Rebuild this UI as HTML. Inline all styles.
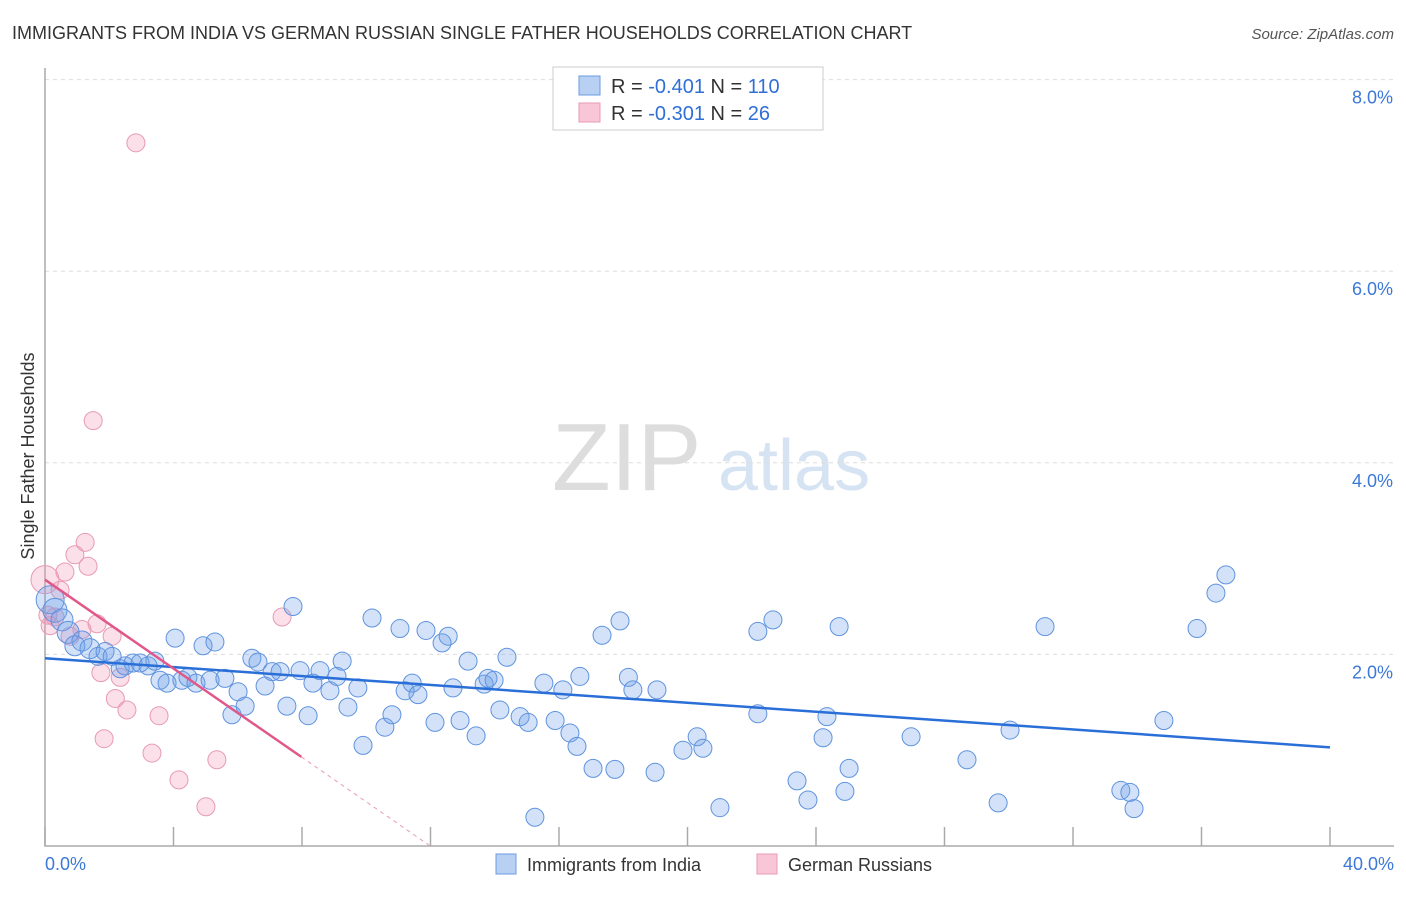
<!DOCTYPE html>
<html><head><meta charset="utf-8"><style>
body{margin:0;background:#fff;font-family:"Liberation Sans",sans-serif}
svg text{font-family:"Liberation Sans",sans-serif}
</style></head><body>
<svg id="c" width="1406" height="892" xmlns="http://www.w3.org/2000/svg">
<text x="12" y="39" font-size="18" fill="#333">IMMIGRANTS FROM INDIA VS GERMAN RUSSIAN SINGLE FATHER HOUSEHOLDS CORRELATION CHART</text>
<text x="1394" y="39" font-size="15" fill="#555" font-style="italic" text-anchor="end">Source: ZipAtlas.com</text>
<text x="34" y="456" font-size="18" fill="#333" text-anchor="middle" transform="rotate(-90 34 456)">Single Father Households</text>
<g><text x="552" y="490" font-size="96" fill="#ddd" font-family="Liberation Serif">ZIP</text><text x="718" y="490" font-size="72" fill="#d6e3f3">atlas</text></g>
<g id="grid"></g><g id="pts"></g><g id="trend"></g>
<g>
<rect x="553" y="67" width="270" height="63" fill="#fff" stroke="#ccc"/>
<rect x="579" y="76" width="21" height="19" fill="#b8d0f2" stroke="#6a9be0"/>
<rect x="579" y="103" width="21" height="19" fill="#f8c6d6" stroke="#e89ab4"/>
<text x="611" y="93" font-size="20" fill="#333">R = <tspan fill="#2f6fd6">-0.401</tspan>   N = <tspan fill="#2f6fd6">110</tspan></text>
<text x="611" y="120" font-size="20" fill="#333">R = <tspan fill="#2f6fd6">-0.301</tspan>   N =  <tspan fill="#2f6fd6"> 26</tspan></text>
</g>
<g>
<rect x="496" y="854" width="20" height="20" fill="#b8d0f2" stroke="#6a9be0"/>
<text x="527" y="871" font-size="18" fill="#333">Immigrants from India</text>
<rect x="757" y="854" width="20" height="20" fill="#f8c6d6" stroke="#e89ab4"/>
<text x="788" y="871" font-size="18" fill="#333">German Russians</text>
</g>
</svg>
<script>
const yTicks=[2,4,6,8];
const xTickLabels=["0.0%","40.0%"];
const blueX=[0.16,0.31,0.53,0.72,0.93,1.15,1.40,1.65,1.87,2.09,2.34,2.49,2.74,2.96,3.21,3.42,3.58,3.80,4.05,4.26,4.45,4.70,4.92,5.14,5.29,5.60,5.82,6.01,6.23,6.44,6.63,6.85,7.07,7.32,7.53,7.72,7.94,8.19,8.34,8.56,8.87,9.09,9.25,9.43,9.74,9.90,10.18,10.58,10.80,11.05,11.21,11.43,11.61,11.86,12.14,12.36,12.55,12.70,12.92,13.17,13.42,13.67,13.79,13.98,14.16,14.38,14.79,15.04,15.25,15.53,15.88,16.12,16.34,16.56,16.65,17.06,17.34,17.74,17.90,18.16,18.30,18.99,19.05,19.86,20.30,20.48,21.01,22.19,22.19,22.66,23.41,23.75,24.22,24.34,24.72,24.90,25.03,26.96,28.70,29.67,30.04,31.13,33.49,33.77,33.90,34.83,35.86,36.45,36.76];
const blueY=[2.57,2.46,2.36,2.23,2.09,2.14,2.06,1.98,2.03,1.98,1.85,1.88,1.91,1.91,1.88,1.93,1.73,1.70,2.17,1.73,1.76,1.70,2.09,1.73,2.13,1.75,1.37,1.61,1.46,1.96,1.92,1.67,1.82,1.82,1.46,2.50,1.83,1.36,1.70,1.83,1.62,1.77,1.93,1.45,1.65,1.05,2.38,1.24,1.37,2.27,1.62,1.70,1.58,2.25,1.29,2.12,2.19,1.65,1.31,1.93,1.15,1.69,1.75,1.73,1.42,1.97,1.35,1.29,0.30,1.70,1.31,1.63,1.18,1.04,1.77,0.81,2.20,0.80,2.35,1.76,1.63,0.77,1.63,1.00,1.14,1.02,0.40,2.24,1.38,2.36,0.68,0.48,1.13,1.35,2.29,0.57,0.81,1.14,0.90,0.45,1.21,2.29,0.58,0.56,0.39,1.31,2.27,2.64,2.83];
const blueR=[14,12,11,11,10,10,10,9,9,9,9,9,9,9,9,9,9,9,9,9,9,9,9,9,9,9,9,9,9,9,9,9,9,9,9,9,9,9,9,9,9,9,9,9,9,9,9,9,9,9,9,9,9,9,9,9,9,9,9,9,9,9,9,9,9,9,9,9,9,9,9,9,9,9,9,9,9,9,9,9,9,9,9,9,9,9,9,9,9,9,9,9,9,9,9,9,9,9,9,9,9,9,9,9,9,9,9,9,9,9];
const pinkX=[0.09,0.31,0.47,0.62,0.93,1.15,1.25,1.34,1.50,1.62,1.74,1.84,2.09,2.19,2.34,2.55,2.83,3.33,3.55,4.17,5.01,5.35,7.38,0.16,0.78,0.00];
const pinkY=[2.41,2.39,2.67,2.86,3.04,2.26,3.17,2.92,4.44,2.32,1.81,1.12,2.19,1.54,1.76,1.42,7.34,0.97,1.36,0.69,0.41,0.90,2.39,2.30,2.19,2.78];
const blueTrend=[1.96,1.03];
const pinkTrend=[2.78,0.93,7.98];
const X0=45,X1=1330,Y0=846,YPER=95.8;
const xs=v=>X0+(X1-X0)*v/40, ys=v=>Y0-YPER*v;
const NS="http://www.w3.org/2000/svg";
function mk(t,a,p){const e=document.createElementNS(NS,t);for(const k in a)e.setAttribute(k,a[k]);p.appendChild(e);return e;}
const g=document.getElementById('grid');
yTicks.forEach(t=>{
 const l=mk('line',{x1:X0,x2:1394,y1:ys(t),y2:ys(t),stroke:'#ddd','stroke-dasharray':'4,4'},g);
 
 
 const tx=mk('text',{x:1393,y:ys(t)+24,'font-size':18,fill:'#3b78d8','text-anchor':'end'},g);tx.textContent=t.toFixed(1)+'%';
 
 
});
const ax=mk('path',{d:`M${X0} 68V${Y0}H1394`,stroke:'#aaa',fill:'none','stroke-width':1.5},g);


for(let i=0;i<=10;i++){const x=xs(i*4);const t=mk('line',{x1:x,x2:x,y1:Y0-19,y2:Y0,stroke:'#aaa','stroke-width':1.5},g);
 
 }
const l0=mk('text',{x:45,y:870,'font-size':18,fill:'#3b78d8'},g);l0.textContent=xTickLabels[0];


const l1=mk('text',{x:1394,y:870,'font-size':18,fill:'#3b78d8','text-anchor':'end'},g);l1.textContent=xTickLabels[1];


const P=document.getElementById('pts');
pinkX.forEach((v,i)=>{const c=mk('circle',{cx:xs(v),cy:ys(pinkY[i]),r:i==25?14:9,fill:'rgba(242,150,182,0.3)',stroke:'#e89ab4','stroke-width':1},P);
 
 });
blueX.forEach((v,i)=>{const c=mk('circle',{cx:xs(v),cy:ys(blueY[i]),r:blueR[i]||9,fill:'rgba(110,160,232,0.3)',stroke:'#5f93de','stroke-width':1},P);
 
 });
const T=document.getElementById('trend');
const bt=mk('line',{x1:xs(0),y1:ys(blueTrend[0]),x2:xs(40),y2:ys(blueTrend[1]),stroke:'#2a6fd8','stroke-width':2.5},T);


const slope=(pinkTrend[1]-pinkTrend[0])/pinkTrend[2];
const pt=mk('line',{x1:xs(0),y1:ys(pinkTrend[0]),x2:xs(pinkTrend[2]),y2:ys(pinkTrend[1]),stroke:'#e0588a','stroke-width':2.5},T);


const xe=-pinkTrend[0]/slope;
const pd=mk('line',{x1:xs(pinkTrend[2]),y1:ys(pinkTrend[1]),x2:xs(xe),y2:ys(0),stroke:'#e89ab4','stroke-width':1,'stroke-dasharray':'4,4'},T);


</script>
</body></html>
